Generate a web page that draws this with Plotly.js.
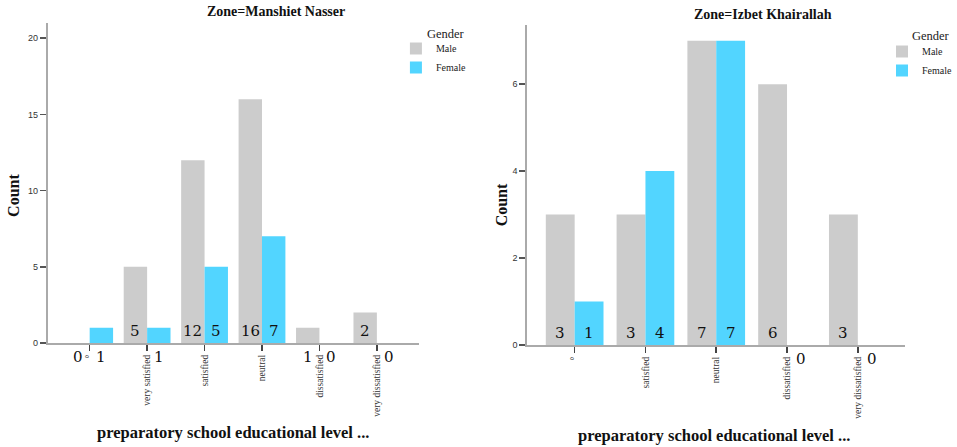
<!DOCTYPE html>
<html>
<head>
<meta charset="utf-8">
<script src="https://cdn.plot.ly/plotly-3.0.1.min.js"></script>
<style>html,body{margin:0;padding:0;background:#fff;}#chart{width:957px;height:447px;}</style>
</head>
<body>
<div id="chart"></div>
<script>
// ---- data ----
const zoneLeft = "Zone=Manshiet Nasser";
const zoneRight = "Zone=Izbet Khairallah";
const catsLeft = ["°", "very satisfied", "satisfied", "neutral", "dissatisfied", "very dissatisfied"];
const maleLeft = [0, 5, 12, 16, 1, 2];
const femaleLeft = [1, 1, 5, 7, 0, 0];
const catsRight = ["°", "satisfied", "neutral", "dissatisfied", "very dissatisfied"];
const maleRight = [3, 3, 7, 6, 3];
const femaleRight = [1, 4, 7, 0, 0];
const seriesNames = ["Male", "Female"];
const legendTitle = "Gender";
const yTitle = "Count";
const xTitle = "preparatory school educational level ...";

// ---- style ----
const W = 957, H = 447;
const maleColor = "#cccccc", femaleColor = "#52d5ff";
const serif = "Liberation Serif, DejaVu Serif, serif";
const numFont = "DejaVu Serif, Liberation Serif, serif";
const sans = "Liberation Sans, DejaVu Sans, sans-serif";
const bargap = 0.185;
const axL = {x: [48/W, 421/W], y: [1-343/H, 1-23/H], yr: [0, 21], xr: [-0.73, catsLeft.length-1+0.73]};
const axR = {x: [530/W, 910/W], y: [1-345/H, 1-25/H], yr: [0, 7.36], xr: [-0.67, catsRight.length-1+0.67]};

const traces = [
  {type:"bar", name:seriesNames[0], x:catsLeft, y:maleLeft, xaxis:"x", yaxis:"y", marker:{color:maleColor}, legend:"legend", hoverinfo:"none"},
  {type:"bar", name:seriesNames[1], x:catsLeft, y:femaleLeft, xaxis:"x", yaxis:"y", marker:{color:femaleColor}, legend:"legend", hoverinfo:"none"},
  {type:"bar", name:seriesNames[0], x:catsRight, y:maleRight, xaxis:"x2", yaxis:"y2", marker:{color:maleColor}, legend:"legend2", hoverinfo:"none"},
  {type:"bar", name:seriesNames[1], x:catsRight, y:femaleRight, xaxis:"x2", yaxis:"y2", marker:{color:femaleColor}, legend:"legend2", hoverinfo:"none"}
];

function xAxis(ax, anchor) {
  return {domain: ax.x, anchor: anchor, type: "category", range: ax.xr, showline: true, linecolor: "#aaaaaa", linewidth: 2,
    ticks: "outside", ticklen: 6, tickwidth: 1.5, tickcolor: "#444", tickangle: -90,
    tickfont: {family: serif, size: 9.5, color: "#333"}, showgrid: false, zeroline: false, fixedrange: true};
}
function yAxis(ax, anchor, dtick) {
  return {domain: ax.y, anchor: anchor, range: ax.yr, dtick: dtick, showline: true, linecolor: "#aaaaaa", linewidth: 2,
    ticks: "outside", ticklen: 6, tickwidth: 1.5, tickcolor: "#555",
    tickfont: {family: sans, size: 9, color: "#333"}, showgrid: false, zeroline: false, fixedrange: true};
}

const annotations = [];
function addCounts(cats, male, female, ax, xref, yref) {
  const pxPerUnit = (ax.y[1]-ax.y[0])*H / (ax.yr[1]-ax.yr[0]);
  const off = (1-bargap)/4;
  [[male, -off], [female, off]].forEach(([vals, o]) => {
    vals.forEach((v, i) => {
      const inside = v*pxPerUnit > 20;
      annotations.push({xref: xref, yref: yref, x: i + o, y: 0, text: String(v), showarrow: false,
        yanchor: inside ? "bottom" : "top", yshift: inside ? 1 : -3,
        font: {family: numFont, size: 15, color: "#111"}});
    });
  });
}
addCounts(catsLeft, maleLeft, femaleLeft, axL, "x", "y");
addCounts(catsRight, maleRight, femaleRight, axR, "x2", "y2");

const titleFont = {family: serif, size: 14, color: "#111"};
annotations.push(
  {xref:"paper", yref:"paper", x:277/W, y:1-12/H, text:"<b>"+zoneLeft+"</b>", showarrow:false, xanchor:"center", yanchor:"middle", font:titleFont},
  {xref:"paper", yref:"paper", x:767/W, y:1-15/H, text:"<b>"+zoneRight+"</b>", showarrow:false, xanchor:"center", yanchor:"middle", font:titleFont},
  {xref:"paper", yref:"paper", x:14/W, y:1-195/H, text:"<b>"+yTitle+"</b>", showarrow:false, textangle:-90, xanchor:"center", yanchor:"middle", font:{family:serif, size:16, color:"#111"}},
  {xref:"paper", yref:"paper", x:504/W, y:1-205/H, text:"<b>"+yTitle+"</b>", showarrow:false, textangle:-90, xanchor:"center", yanchor:"middle", font:{family:serif, size:16, color:"#111"}},
  {xref:"paper", yref:"paper", x:234/W, y:1-432/H, text:"<b>"+xTitle+"</b>", showarrow:false, xanchor:"center", yanchor:"middle", font:{family:serif, size:16.5, color:"#111"}},
  {xref:"paper", yref:"paper", x:718/W, y:1-435/H, text:"<b>"+xTitle+"</b>", showarrow:false, xanchor:"center", yanchor:"middle", font:{family:serif, size:16.5, color:"#111"}},
  {xref:"paper", yref:"paper", x:427/W, y:1-34/H, text:legendTitle, showarrow:false, xanchor:"left", yanchor:"middle", font:{family:serif, size:12.5, color:"#222"}},
  {xref:"paper", yref:"paper", x:915/W, y:1-36/H, text:legendTitle, showarrow:false, xanchor:"left", yanchor:"middle", font:{family:serif, size:12.5, color:"#222"}}
);

function legend(x, y) {
  return {x: x, y: y, xanchor: "left", yanchor: "top", bgcolor: "rgba(0,0,0,0)", borderwidth: 0,
    font: {family: serif, size: 10, color: "#222"}, itemwidth: 30, tracegroupgap: 0};
}

const layout = {
  width: W, height: H, margin: {l:0, r:0, t:0, b:0}, paper_bgcolor: "#fff", plot_bgcolor: "#fff",
  barmode: "group", bargap: bargap, bargroupgap: 0, showlegend: true,
  xaxis: xAxis(axL, "y"), yaxis: yAxis(axL, "x", 5),
  xaxis2: xAxis(axR, "y2"), yaxis2: yAxis(axR, "x2", 2),
  legend: legend(398/W, 1-34/H), legend2: legend(887/W, 1-37/H),
  annotations: annotations
};
Plotly.newPlot("chart", traces, layout, {staticPlot: true, displayModeBar: false});
</script>
</body>
</html>
